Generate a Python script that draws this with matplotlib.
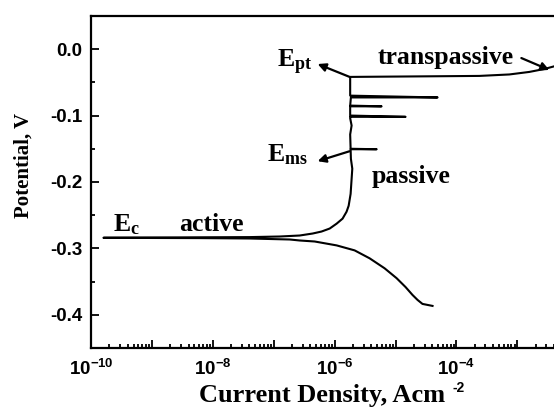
import numpy as np
import matplotlib
matplotlib.use("Agg")
import matplotlib.pyplot as plt
from matplotlib.ticker import LogLocator, FuncFormatter, MultipleLocator, NullFormatter

plt.rcParams["font.family"] = "Liberation Sans"
plt.rcParams["font.weight"] = "bold"
plt.rcParams["mathtext.fontset"] = "custom"
plt.rcParams["mathtext.rm"] = "Liberation Serif:bold"
plt.rcParams["mathtext.bf"] = "Liberation Serif:bold"
plt.rcParams["mathtext.it"] = "Liberation Serif:bold:italic"
plt.rcParams["mathtext.sf"] = "Liberation Sans:bold"

# polarisation curve: current density (A/cm2) and potential (V)
# cathodic branch, from the far end back to Ec
i_cath = [4.05e-5, 3.35e-5, 2.77e-5, 2.3e-5, 1.9e-5, 1.46e-5, 1.04e-5, 6.6e-6,
          3.75e-6, 2.13e-6, 1.08e-6, 4.7e-7, 2.67e-7, 1.83e-7,
          4.0e-8, 6.1e-9, 9.3e-10, 1.6e-10]
E_cath = [-0.3866, -0.3851, -0.3836, -0.3776, -0.3701, -0.3582, -0.3448, -0.3299,
          -0.3149, -0.3030, -0.2955, -0.2896, -0.2881, -0.2866,
          -0.2851, -0.2845, -0.2843, -0.2840]

# anodic branch: active -> passive (with metastable spikes) -> transpassive
i_anod = [1.6e-10, 9.3e-10, 6.1e-9, 4.0e-8, 1.25e-7, 2.67e-7, 4.36e-7, 6.1e-7,
          8.3e-7, 1.08e-6, 1.35e-6, 1.57e-6, 1.7e-6, 1.83e-6, 1.9e-6, 1.95e-6, 1.85e-6,
          1.83e-6, 4.9e-6, 1.83e-6,
          1.8e-6, 1.9e-6, 1.8e-6,
          1.8e-6, 1.46e-5, 1.8e-6,
          1.8e-6, 5.9e-6, 1.8e-6,
          1.85e-6, 4.9e-5, 1.8e-6,
          1.8e-6, 2.47e-5, 2.38e-4, 7.4e-4, 1.57e-3, 2.77e-3, 4.2e-3]
E_anod = [-0.2840, -0.2836, -0.2833, -0.2830, -0.2821, -0.2806, -0.2776, -0.2746,
          -0.2701, -0.2627, -0.2552, -0.2448, -0.2358, -0.2179, -0.1955, -0.1800, -0.1650,
          -0.1507, -0.1507, -0.1500,
          -0.1284, -0.1150, -0.1040,
          -0.1019, -0.1019, -0.1000,
          -0.0861, -0.0861, -0.0850,
          -0.0727, -0.0727, -0.0700,
          -0.0418, -0.0410, -0.0403, -0.0381, -0.0343, -0.0299, -0.0254]

fig = plt.figure(figsize=(5.54, 4.12), dpi=100)
ax = fig.add_axes([0.1643, 0.1553, 0.8357, 0.806])

ax.plot(i_cath + i_anod, E_cath + E_anod, color="black", lw=1.5)

ax.set_xscale("log")
ax.set_xlim(1e-10, 4e-3)
ax.set_ylim(-0.45, 0.05)

ax.xaxis.set_major_locator(LogLocator(base=10, numticks=20))
ax.xaxis.set_minor_locator(LogLocator(base=10, subs=np.arange(2, 10), numticks=100))
ax.xaxis.set_minor_formatter(NullFormatter())


def fmt(v, pos):
    e = int(round(np.log10(v)))
    if e % 2 == 0:
        return r"$\mathsf{10^{%d}}$" % e
    return ""


ax.xaxis.set_major_formatter(FuncFormatter(fmt))
ax.yaxis.set_major_locator(MultipleLocator(0.1))
ax.yaxis.set_minor_locator(MultipleLocator(0.05))
ax.yaxis.set_major_formatter(FuncFormatter(lambda v, p: "%.1f" % v))

ax.tick_params(which="both", direction="in", top=False, right=False, width=1.3)
ax.tick_params(which="major", length=6, labelsize=13.5, pad=6)
ax.tick_params(axis="x", which="major", pad=8)
ax.tick_params(which="minor", length=3)
for s in ax.spines.values():
    s.set_linewidth(1.6)
ax.spines["right"].set_visible(False)

ax.set_xlabel("Current Density, Acm", fontfamily="Liberation Serif",
              fontsize=19, fontweight="bold")
ax.xaxis.set_label_coords(0.5, -0.108)
ax.text(0.78, -0.132, "-2", transform=ax.transAxes, fontsize=10, fontweight="bold")
ax.set_ylabel("Potential, V", fontfamily="Liberation Serif", fontsize=15, fontweight="bold")
ax.yaxis.set_label_coords(-0.125, 0.55)

tfont = dict(fontfamily="Liberation Serif", fontsize=18.5, fontweight="bold")
ax.text(10 ** -9.64, -0.2746, r"$\mathbf{E_{c}}$", fontsize=18.5)
ax.text(10 ** -8.016, -0.2731, "active", ha="center", **tfont)
ax.text(10 ** -4.74, -0.2015, "passive", ha="center", **tfont)
ax.text(10 ** -5.295, -0.0224, "transpassive", **tfont)
ax.text(10 ** -6.95, -0.0269, r"$\mathbf{E_{pt}}$", fontsize=18.5)
ax.text(10 ** -7.115, -0.1687, r"$\mathbf{E_{ms}}$", fontsize=18.5)

arw = dict(arrowstyle="-|>", color="black", lw=1.6, mutation_scale=12, shrinkA=0, shrinkB=0)
ax.annotate("", xy=(10 ** -6.279, -0.0224), xytext=(10 ** -5.754, -0.0418), arrowprops=arw)
ax.annotate("", xy=(10 ** -6.279, -0.1687), xytext=(10 ** -5.754, -0.1537), arrowprops=arw)
ax.annotate("", xy=(10 ** -2.475, -0.0313), xytext=(10 ** -2.934, -0.0134), arrowprops=arw)

fig.savefig("out.png", dpi=100)
